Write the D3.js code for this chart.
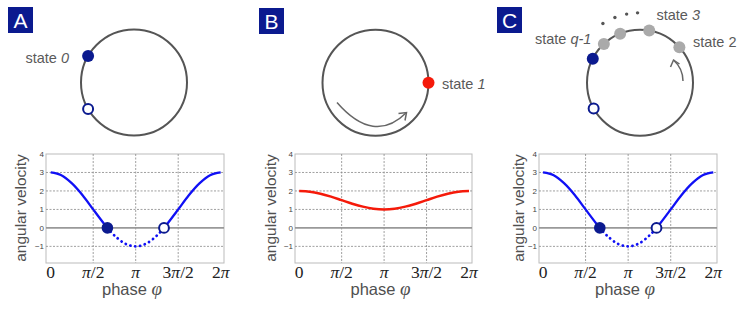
<!DOCTYPE html>
<html>
<head>
<meta charset="utf-8">
<script src="https://cdn.jsdelivr.net/npm/d3@7"></script>
<style>
  body { margin: 0; background: #fff; }
  text { font-family: "Liberation Sans", Arial, sans-serif; }
</style>
</head>
<body>
<div id="chart"></div>
<script>
// Data (phase in units of pi)
var xTickValues = [0, 0.5, 1, 1.5, 2];
var xTickLabels = [["0", ""], ["", "π", "/2"], ["", "π"], ["3", "π", "/2"], ["2", "π"]];
var yTickValues = [-1, 0, 1, 2, 3, 4];
var yGridValues = [-1, 1, 2, 3];

var phaseA = [0, 0.125, 0.25, 0.375, 0.5, 0.625, 0.667, 0.75, 0.875, 1, 1.125, 1.25, 1.333, 1.375, 1.5, 1.625, 1.75, 1.875, 2];
var velocityA = [3, 2.85, 2.41, 1.77, 1, 0.24, 0, -0.41, -0.85, -1, -0.85, -0.41, 0, 0.24, 1, 1.77, 2.41, 2.85, 3];

var phaseB = [0, 0.125, 0.25, 0.375, 0.5, 0.625, 0.75, 0.875, 1, 1.125, 1.25, 1.375, 1.5, 1.625, 1.75, 1.875, 2];
var velocityB = [2, 1.96, 1.85, 1.69, 1.5, 1.31, 1.15, 1.04, 1, 1.04, 1.15, 1.31, 1.5, 1.69, 1.85, 1.96, 2];

// zero crossings: [phase, velocity]
var fixedStable = [0.667, 0];
var fixedUnstable = [1.333, 0];

// states on the circle, angle in degrees (counter-clockwise from east)
var circleStatesA = [150, 210];
var circleStateB = [0];
var circleStatesC = [153, 209];
var grayStatesC = [133, 112, 80, 42];
var ellipsisC = [122, 111, 101, 92];

// Initialize SVG
var svgWidth = 747;
var svgHeight = 314;

var svg = d3.select("#chart")
  .append("svg")
  .attr("width", svgWidth)
  .attr("height", svgHeight);

var navy = "#0b1a8f";
var blue = "#1010f5";
var red = "#f51a0a";
var ringR = 53;

var angleScale = d3.scaleLinear().domain([0, 360]).range([Math.PI / 2, Math.PI / 2 - 2 * Math.PI]);

var panels = [
  { name: "A", box: [8, 7], center: [134, 82.5], x0: 50.7, x2: 220.7, left: 46, right: 224, ylab: 26, type: "A" },
  { name: "B", box: [259, 8], center: [375.5, 82.7], x0: 299.2, x2: 469, left: 295, right: 472, ylab: 275.5, type: "B" },
  { name: "C", box: [497, 7], center: [640, 82.8], x0: 543, x2: 713.3, left: 539, right: 717, ylab: 523.5, type: "C" }
];

var yScale = d3.scaleLinear().domain([-1.9, 4]).range([263, 154]);

panels.forEach(function(p) {
  // Panel letter
  svg.append("rect")
    .attr("x", p.box[0]).attr("y", p.box[1])
    .attr("width", 25).attr("height", 26)
    .attr("fill", navy);
  svg.append("text")
    .attr("x", p.box[0] + 12.5).attr("y", p.box[1] + 20.5)
    .attr("text-anchor", "middle")
    .attr("fill", "#fff")
    .attr("font-size", "21px")
    .text(p.name);

  // Ring
  var ring = svg.append("g")
    .attr("transform", `translate(${p.center[0]}, ${p.center[1]})`);
  ring.append("circle")
    .attr("r", ringR)
    .attr("fill", "none")
    .attr("stroke", "#555")
    .attr("stroke-width", 2);

  function pos(a, r) { return d3.pointRadial(angleScale(a), r || ringR); }

  if (p.type === "B") {
    ring.selectAll(".st").data(circleStateB).enter().append("circle")
      .attr("cx", d => pos(d)[0]).attr("cy", d => pos(d)[1])
      .attr("r", 6).attr("fill", red);
  } else {
    var st = p.type === "A" ? circleStatesA : circleStatesC;
    if (p.type === "C") {
      ring.selectAll(".gs").data(grayStatesC).enter().append("circle")
        .attr("cx", d => pos(d)[0]).attr("cy", d => pos(d)[1])
        .attr("r", 6).attr("fill", "#aaa");
      ring.selectAll(".el").data(ellipsisC).enter().append("circle")
        .attr("cx", d => pos(d, 70)[0]).attr("cy", d => pos(d, 70)[1])
        .attr("r", 1.7).attr("fill", "#555");
    }
    ring.append("circle")
      .attr("cx", pos(st[0])[0]).attr("cy", pos(st[0])[1])
      .attr("r", 6).attr("fill", navy);
    ring.append("circle")
      .attr("cx", pos(st[1])[0]).attr("cy", pos(st[1])[1])
      .attr("r", 5).attr("fill", "#fff")
      .attr("stroke", navy).attr("stroke-width", 2);
  }

  // Plot
  var xScale = d3.scaleLinear().domain([0, 2]).range([p.x0, p.x2]);
  var g = svg.append("g");

  g.append("rect")
    .attr("x", p.left).attr("y", yScale(4))
    .attr("width", p.right - p.left).attr("height", yScale(-1.9) - yScale(4))
    .attr("fill", "none").attr("stroke", "#bbb").attr("stroke-width", 1);

  g.selectAll(".vg").data([0.5, 1, 1.5]).enter().append("line")
    .attr("x1", d => xScale(d)).attr("x2", d => xScale(d))
    .attr("y1", yScale(4)).attr("y2", yScale(-1.9))
    .attr("stroke", "#888").attr("stroke-width", 0.8)
    .attr("stroke-dasharray", "2,1.5");
  g.selectAll(".hg").data(yGridValues).enter().append("line")
    .attr("x1", p.left).attr("x2", p.right)
    .attr("y1", d => yScale(d)).attr("y2", d => yScale(d))
    .attr("stroke", "#888").attr("stroke-width", 0.8)
    .attr("stroke-dasharray", "2,1.5");
  g.append("line")
    .attr("x1", p.left).attr("x2", p.right)
    .attr("y1", yScale(0)).attr("y2", yScale(0))
    .attr("stroke", "#999").attr("stroke-width", 1.6);

  // y tick labels
  g.selectAll(".yt").data(yTickValues).enter().append("text")
    .attr("x", p.left - 2).attr("y", d => yScale(d))
    .attr("dy", "0.35em")
    .attr("text-anchor", "end")
    .attr("font-size", "8px")
    .attr("fill", "#444")
    .text(d => d < 0 ? "\u2212" + Math.abs(d) : d);

  // x tick labels
  var xt = g.selectAll(".xt").data(xTickValues).enter().append("text")
    .attr("x", d => xScale(d)).attr("y", 277.5)
    .attr("text-anchor", "middle")
    .attr("font-size", "17.5px")
    .style("font-family", "'Liberation Serif', 'DejaVu Serif', serif")
    .attr("fill", "#222");
  xt.each(function(d, i) {
    var parts = xTickLabels[i];
    var t = d3.select(this);
    parts.forEach(function(s, k) {
      if (!s) return;
      t.append("tspan")
        .attr("font-style", k === 1 ? "italic" : "normal")
        .text(s);
    });
  });

  // axis titles
  var xt2 = g.append("text")
    .attr("x", (p.left + p.right) / 2 - 3).attr("y", 295)
    .attr("text-anchor", "middle")
    .attr("fill", "#505050")
    .attr("font-size", "16.5px");
  xt2.append("tspan").text("phase ");
  xt2.append("tspan")
    .style("font-family", "'Liberation Serif', 'DejaVu Serif', serif")
    .attr("font-style", "italic")
    .attr("font-size", "19px")
    .text("φ");

  g.append("text")
    .attr("transform", `translate(${p.ylab}, 208) rotate(-90)`)
    .attr("text-anchor", "middle")
    .attr("fill", "#505050")
    .attr("font-size", "15.5px")
    .text("angular velocity");

  var line = d3.line()
    .x(d => xScale(d[0]))
    .y(d => yScale(d[1]))
    .curve(d3.curveCatmullRom);

  if (p.type === "B") {
    g.append("path")
      .datum(d3.zip(phaseB, velocityB))
      .attr("d", line)
      .attr("fill", "none").attr("stroke", red).attr("stroke-width", 2.5);
  } else {
    var pts = d3.zip(phaseA, velocityA);
    var segs = [pts.slice(0, 7), pts.slice(12)];
    segs.forEach(function(s) {
      g.append("path").datum(s).attr("d", line)
        .attr("fill", "none").attr("stroke", blue).attr("stroke-width", 2.3);
    });
    g.append("path").datum(pts.slice(6, 13)).attr("d", line)
      .attr("fill", "none").attr("stroke", blue).attr("stroke-width", 2.8)
      .attr("stroke-linecap", "round")
      .attr("stroke-dasharray", "0.1,4.8");
    g.append("circle")
      .attr("cx", xScale(fixedStable[0])).attr("cy", yScale(fixedStable[1]))
      .attr("r", 5.8).attr("fill", navy);
    g.append("circle")
      .attr("cx", xScale(fixedUnstable[0])).attr("cy", yScale(fixedUnstable[1]))
      .attr("r", 4.9).attr("fill", "#fff")
      .attr("stroke", navy).attr("stroke-width", 2);
  }
});

// state labels
function stateLabel(x, y, a, b, italic) {
  var t = svg.append("text")
    .attr("x", x).attr("y", y)
    .attr("fill", "#5a5a5a")
    .attr("font-size", "14.5px");
  t.append("tspan").text(a);
  t.append("tspan").attr("font-style", italic ? "italic" : "normal").text(b);
}
stateLabel(25.5, 63, "state ", "0", true);
stateLabel(442, 88.5, "state ", "1", true);
stateLabel(535, 43.5, "state ", "q-1", true);
stateLabel(656.5, 20, "state ", "3", true);
stateLabel(693, 47, "state ", "2", false);

// rotation arrows
svg.append("path")
  .attr("d", "M337,102.5 Q374,145 406.5,112.5")
  .attr("fill", "none").attr("stroke", "#666").attr("stroke-width", 1.5);
svg.append("path")
  .attr("d", "M398.5,113.5 L406.5,112.5 L405,120.5")
  .attr("fill", "none").attr("stroke", "#666").attr("stroke-width", 1.5);
svg.append("path")
  .attr("d", "M683,81 C683,72 679,65 673.5,60")
  .attr("fill", "none").attr("stroke", "#666").attr("stroke-width", 1.5);
svg.append("path")
  .attr("d", "M670.5,67 L673.5,60 L679.5,64")
  .attr("fill", "none").attr("stroke", "#666").attr("stroke-width", 1.5);
</script>
</body>
</html>
